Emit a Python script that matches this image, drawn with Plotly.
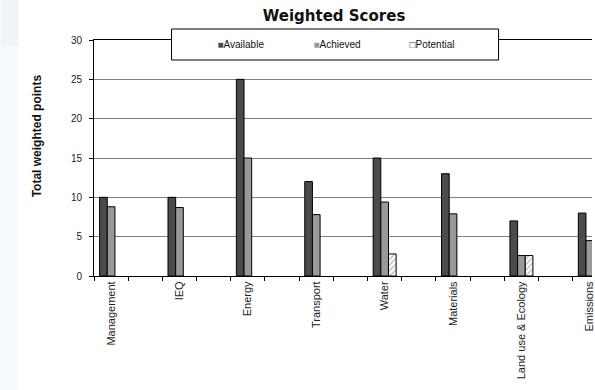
import plotly.graph_objects as go

categories = ["Management", "IEQ", "Energy", "Transport", "Water",
              "Materials", "Land use & Ecology", "Emissions"]
available = [10, 10, 25, 12, 15, 13, 7, 8]
achieved = [8.8, 8.7, 15, 7.8, 9.4, 7.9, 2.6, 4.5]
potential = [None, None, None, None, 2.8, None, 2.6, None]
y_ticks = [0, 5, 10, 15, 20, 25, 30]

# every category is followed by an empty slot (as in the original chart)
xpos = [2 * i for i in range(len(categories))]

BW = 0.224
fig = go.Figure()
fig.add_trace(go.Bar(x=xpos, y=available, width=BW, offset=-1.5 * BW,
                     marker=dict(color="#4b4b4b", line=dict(color="#000", width=1)),
                     showlegend=False, name="Available"))
fig.add_trace(go.Bar(x=xpos, y=achieved, width=BW, offset=-0.5 * BW,
                     marker=dict(color="#999999", line=dict(color="#000", width=1)),
                     showlegend=False, name="Achieved"))
fig.add_trace(go.Bar(x=xpos, y=potential, width=BW, offset=0.5 * BW,
                     marker=dict(color="white", line=dict(color="#000", width=1),
                                 pattern=dict(shape="/", fgcolor="#777", bgcolor="white",
                                              size=4, solidity=0.35)),
                     showlegend=False, name="Potential"))

legend_items = [('<span style="color:#4b4b4b">■</span>Available'),
                ('<span style="color:#999999">■</span>Achieved'),
                ('<span style="color:#333333">□</span>Potential')]
for nm in legend_items:
    fig.add_trace(go.Scatter(x=[None], y=[None], mode="markers", name=nm,
                             marker=dict(color="rgba(0,0,0,0)", size=1)))

L, R, T, B = 94, 0, 40, 114
W, H = 595, 390
pw = W - L - R
ph = H - T - B

def px_x(p):
    return (p - L) / pw

def px_y(p):
    return (H - B - p) / ph

fig.update_layout(
    width=W, height=H,
    margin=dict(l=L, r=R, t=T, b=B, pad=0),
    paper_bgcolor="white", plot_bgcolor="white",
    barmode="group",
    font=dict(family="Liberation Sans, Arial, sans-serif", color="#222", size=10),
    title=dict(text="<b>Weighted Scores</b>", x=px_x(335.5), xref="paper",
               xanchor="center", y=1 - 15.5 / H, yref="container", yanchor="middle",
               font=dict(family="Verdana, DejaVu Sans, sans-serif", size=15, color="#111")),
    xaxis=dict(range=[-0.5, -0.5 + pw / 34.4], tickmode="array", tickvals=xpos,
               ticktext=categories, tickangle=-90, ticks="", showgrid=False,
               zeroline=False, showline=True, linecolor="#000", linewidth=1, mirror=True,
               tickfont=dict(size=11, color="#222"), ticklabeloverflow="allow",
               minor=dict(tickmode="linear", tick0=-0.5, dtick=1, ticks="outside",
                          ticklen=4, tickcolor="#000", tickwidth=1, showgrid=False)),
    yaxis=dict(range=[0, 30], tickmode="array", tickvals=y_ticks, ticks="outside",
               ticklen=4, tickcolor="#000", showgrid=True, gridcolor="#808080",
               gridwidth=1, zeroline=False, showline=True, linecolor="#000",
               linewidth=1, tickfont=dict(size=10, color="#222"), ticklabelstandoff=5),
    legend=dict(orientation="h", x=px_x(218 - 40), xanchor="left",
                y=px_y(44.5), yanchor="middle", bgcolor="rgba(0,0,0,0)",
                borderwidth=0, entrywidthmode="pixels", entrywidth=51,
                font=dict(size=10, color="#111")),
    shapes=[
        dict(type="rect", xref="paper", yref="paper", x0=px_x(0), x1=px_x(18),
             y0=px_y(46), y1=px_y(0), fillcolor="#f1f4f6", line=dict(width=0), layer="below"),
        dict(type="rect", xref="paper", yref="paper", x0=px_x(0), x1=px_x(18),
             y0=px_y(H), y1=px_y(46), fillcolor="#f6fafc", line=dict(width=0), layer="below"),
        dict(type="rect", xref="paper", yref="paper", x0=px_x(172), x1=px_x(501),
             y0=px_y(60), y1=px_y(29), fillcolor="white",
             line=dict(color="#000", width=1), layer="above"),
    ],
    annotations=[
        dict(text="<b>Total weighted points</b>", xref="paper", yref="paper",
             x=px_x(37), y=px_y(136), textangle=-90, showarrow=False,
             xanchor="center", yanchor="middle",
             font=dict(size=12, color="#111", family="Liberation Sans, Arial, sans-serif")),
    ],
)

fig.write_html("out.html")
